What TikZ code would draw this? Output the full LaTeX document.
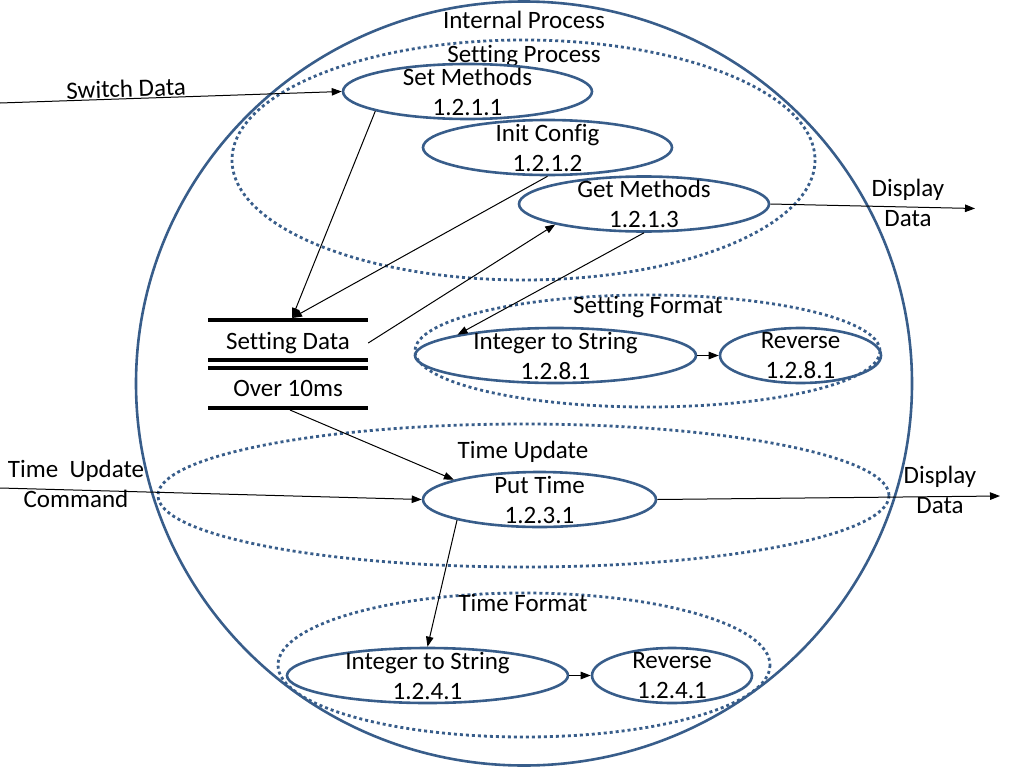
\documentclass[tikz,border=0pt]{standalone}
\usepackage{fontspec}
\setmainfont{Carlito}[Ligatures=CommonOff]
\usepackage{tikz}
\usetikzlibrary{shapes.geometric,arrows.meta}

\definecolor{procblue}{RGB}{56,93,138}

\tikzset{
  proc/.style={ellipse, draw=procblue, line width=2.6pt, inner sep=0pt, minimum height=55pt},
  group/.style={draw=procblue, line width=2.8pt, dash pattern=on 3pt off 3pt},
  flow/.style={-{Triangle[length=10pt,width=7.5pt]}, line width=1pt},
  txt/.style={align=center, inner sep=0pt, font=\fontsize{25}{30}\selectfont},
  store/.style={line width=4pt}
}

\begin{document}
\begin{tikzpicture}[x=1pt,y=-1pt]
\useasboundingbox (0,0) rectangle (1024,768);

% A. Outer process and the dotted groups inside it
\draw[procblue, line width=2.6pt] (524,383.5) ellipse [x radius=388, y radius=382];
\node[txt] (internal) at (524,20) {Internal Process};

\draw[group] (523.5,160) ellipse [x radius=291.5, y radius=120];
\node[txt] (setproc) at (524,55.6) {Setting Process};

\draw[group] (647.5,351) ellipse [x radius=232.5, y radius=56];
\node[txt] (setfmt) at (648,306.6) {Setting Format};

\draw[group] (523.5,495.5) ellipse [x radius=365.5, y radius=71.5];
\node[txt] (timeupd) at (523,451.6) {Time Update};

\draw[group] (524,665) ellipse [x radius=246, y radius=72];
\node[txt] (timefmt) at (523,603) {Time Format};

% B. Processes
\node[proc, minimum width=249pt, label={[txt]center:Set Methods\\1.2.1.1}] (setm) at (467.5,91.5) {};
\node[proc, minimum width=249pt, label={[txt]center:Init Config\\1.2.1.2}] (initc) at (547.5,147.5) {};
\node[proc, minimum width=250pt, label={[txt]center:Get Methods\\1.2.1.3}] (getm) at (644,204) {};
\node[proc, minimum width=281pt, label={[txt]center:Integer to String\\1.2.8.1}] (int1) at (555.5,355.5) {};
\node[proc, minimum width=161pt, label={[txt]center:Reverse\\1.2.8.1}] (rev1) at (800.5,355.5) {};
\node[proc, minimum width=233pt, label={[txt]center:Put Time\\1.2.3.1}] (putt) at (539.5,499.5) {};
\node[proc, minimum width=281pt, label={[txt]center:Integer to String\\1.2.4.1}] (int2) at (427.5,675.5) {};
\node[proc, minimum width=160pt, label={[txt]center:Reverse\\1.2.4.1}] (rev2) at (672,675.5) {};

% C. Data store
\draw[store] (208,320) -- (368,320);
\draw[store] (208,360) -- (368,360);
\draw[store] (208,368) -- (368,368);
\draw[store] (208,408) -- (368,408);
\node[txt, minimum width=160pt] (sdata) at (288,343) {Setting Data};
\node[txt] (over) at (288,388.5) {Over 10ms};
\coordinate (sd-top) at (292,318);
\coordinate (ov-bot) at (290,410);

% D. Outside ends and their labels
\coordinate (sw-in) at (0,103);
\coordinate (tu-in) at (0,488);
\coordinate (disp1) at (975,208.5);
\coordinate (disp2) at (1000,496);
\node[txt] (disp1-t) at (908,203) {Display\\Data};
\node[txt] (disp2-t) at (940,490) {Display\\Data};
\node[txt] (tu-t) at (76,483.5) {Time\ \ Update\\Command};

% E. Flows
\draw[flow] (sw-in) -- node[txt, sloped, above, pos=0.37, inner sep=1pt] (sw-t) {Switch Data} (setm.west);
\draw[flow] (setm.192) -- (sd-top);
\draw[flow] (initc.south) -- (sd-top);
\draw[flow] (sdata.east) -- (getm.193);
\draw[flow] (getm.south) -- (int1.168);
\draw[flow] (getm.east) -- (disp1);
\draw[flow] (int1.east) -- (rev1.west);
\draw[flow] (ov-bot) -- (putt.167);
\draw[flow] (tu-in) -- (putt.west);
\draw[flow] (putt.east) -- (disp2);
\draw[flow] (putt.194) -- (int2.north);
\draw[flow] (int2.east) -- (rev2.west);

\end{tikzpicture}
\end{document}
